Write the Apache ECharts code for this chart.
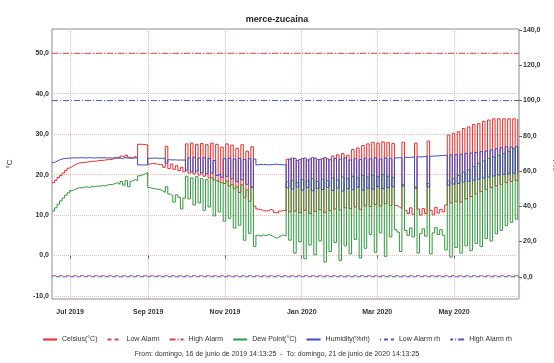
<!DOCTYPE html>
<html>
<head>
<meta charset="utf-8">
<script src="https://cdn.jsdelivr.net/npm/echarts@6.0.0/dist/echarts.min.js"></script>
<style>
  html, body { margin: 0; padding: 0; background: #ffffff; }
  #chart { width: 554px; height: 363px; }
</style>
</head>
<body>
<div id="chart"></div>
<script>
// ---------------- DATA ----------------
const chartTitle = 'merce-zucaina';
const footerText = 'From: domingo, 16 de junio de 2019 14:13:25  -  To: domingo, 21 de junio de 2020 14:13:25';

// sampling grid: one reading every 2 days from the start of the range
const rangeStart = [2019, 6, 16, 14, 13, 25];
const rangeEnd = [2020, 6, 21, 14, 13, 25];
const stepDays = 2;

// x-axis tick dates and labels
const monthTickDates = [[2019, 7, 1], [2019, 9, 1], [2019, 11, 1], [2020, 1, 1], [2020, 3, 1], [2020, 5, 1]];
const monthTickLabels = ['Jul 2019', 'Sep 2019', 'Nov 2019', 'Jan 2020', 'Mar 2020', 'May 2020'];

// y-axis tick values
const leftTicks = [-10, 0, 10, 20, 30, 40, 50];
const rightTicks = [0, 20, 40, 60, 80, 100, 120, 140];

// Celsius (°C)
const celsius = [
  18.0, 18.6, 19.3, 19.8, 20.4, 21.0, 21.6, 22.0, 22.4, 22.7,
  22.9, 23.0, 23.0, 23.1, 23.2, 23.3, 23.3, 23.4, 23.5, 23.5,
  23.6, 23.7, 23.7, 23.8, 24.0, 24.3, 24.1, 24.6, 24.2, 24.8,
  24.3, 24.1, 24.5, 24.2,
  27.5, 27.5, 27.4, 27.4,
  22.6, 22.8, 22.7, 22.6, 22.5, 22.4, 21.8, 27.0, 21.5, 22.6, 21.3, 22.2, 21.0, 21.8, 20.7,
  27.6, 20.4, 27.8, 20.2, 27.5, 19.9, 27.7, 19.6, 27.4, 19.2, 27.8, 18.7, 27.5, 18.2,
  26.8, 17.8, 27.6, 17.2, 27.3, 16.5, 26.5, 15.6, 27.4, 14.4, 25.8, 13.4, 26.9, 12.2,
  11.5, 11.3, 11.2, 11.0, 11.1, 11.4, 11.2, 10.6, 10.5, 11.0, 11.2, 11.0,
  23.8, 10.8, 24.1, 11.0, 23.5, 10.6, 24.0, 11.2, 23.6, 10.4,
  24.2, 10.9, 23.7, 11.3, 24.0, 10.7, 23.9, 11.1, 24.6, 11.5,
  24.9, 11.2, 25.2, 11.8, 24.8, 11.6, 26.2, 12.0, 26.6, 11.4,
  27.2, 12.3, 27.6, 12.1, 28.0, 12.6, 27.8, 12.2, 28.1, 12.8,
  27.9, 12.4, 27.7,
  12.4, 12.0, 11.6, 28.0, 11.2, 10.4, 11.8, 10.2, 27.8, 11.5,
  10.0, 11.6, 10.4, 28.3, 11.2, 10.1, 11.9, 10.5, 11.4, 10.8,
  12.5, 29.8, 13.0, 30.2, 13.4, 30.6, 13.2, 31.4, 14.0, 31.8,
  14.6, 32.4, 15.2, 32.6, 15.8, 33.2, 16.3, 33.5, 16.8, 33.8,
  17.2, 33.8, 17.6, 33.8, 18.0, 33.8, 18.3, 33.8, 18.5, 33.8
];

// Dew Point (°C)
const dewPoint = [
  11.0, 11.8, 12.7, 13.5, 14.2, 14.9, 15.5, 16.0, 16.3, 16.6,
  16.8, 16.7, 16.9, 17.0, 16.8, 17.1, 17.0, 17.2, 17.1, 17.3,
  17.2, 17.4, 17.6, 17.5, 17.8, 18.0, 17.6, 18.3, 17.4, 18.5,
  17.0, 18.4, 18.8, 18.5,
  19.7, 19.9, 20.2, 20.5,
  16.8, 16.6, 16.5, 16.4, 16.3, 16.0, 15.6, 17.0, 15.2, 14.8, 13.2, 15.0, 14.4, 11.5, 14.2,
  19.6, 14.0, 19.2, 12.5, 19.5, 13.0, 19.0, 11.2, 18.8, 12.0, 19.2, 9.8, 18.5, 10.8,
  18.0, 8.5, 18.4, 9.2, 17.6, 6.8, 17.0, 7.5, 17.5, 3.8, 16.2, 5.5, 16.8, 2.2,
  5.0, 4.8, 5.1, 4.9, 5.2, 5.0, 4.7, 4.3, 4.5, 4.9, 5.1, 4.8,
  18.2, 3.8, 18.6, 0.6, 18.0, 3.4, 18.8, -0.8, 18.4, 2.6,
  19.0, 0.2, 18.3, 3.6, 18.9, -1.6, 18.5, 1.0, 19.2, 3.2,
  18.7, -1.2, 19.4, 2.4, 19.0, 0.4, 19.6, 4.0, 19.2, -0.6,
  19.8, 1.8, 19.4, 5.2, 19.9, 0.8, 19.5, 5.6, 20.0, -0.2,
  19.6, 4.6, 19.3,
  6.4, 5.8, 1.0, 17.5, 6.2, 5.0, 6.8, 4.6, 17.0, 0.6,
  5.4, 6.6, 4.8, 17.8, 0.4, 5.6, 6.9, 5.2, 6.4, 5.0,
  1.4, 18.4, -0.4, 19.0, 2.0, 19.8, 0.6, 20.6, 2.4, 21.2,
  1.2, 22.0, 3.0, 22.8, 2.2, 23.4, 4.2, 24.0, 3.6, 24.4,
  5.4, 24.8, 6.2, 25.2, 7.4, 25.8, 8.2, 26.4, 9.0, 26.8
];

// Humidity (%rh)
const humidity = [
  64.8, 65.6, 66.3, 66.8, 67.1, 67.2, 67.3, 67.4, 67.5, 67.5,
  67.5, 67.6, 67.4, 67.5, 67.6, 67.5, 67.4, 67.6, 67.5, 67.5,
  67.6, 67.4, 67.5, 67.3, 67.6, 67.2, 67.5, 67.0, 67.6, 67.3,
  67.4, 67.2, 67.5, 67.3,
  63.5, 63.4, 63.5, 63.4,
  67.3, 67.3, 67.4, 67.3, 67.2, 67.3, 67.2, 64.5, 66.4, 66.3, 66.4, 66.2, 66.3, 66.2, 66.3,
  60.5, 67.5, 59.5, 67.8, 60.0, 67.4, 59.0, 67.6, 58.5, 67.2, 58.8, 66.0, 57.5, 58.5,
  56.5, 67.0, 57.0, 67.4, 55.5, 66.8, 54.0, 67.2, 55.0, 66.5, 52.5, 67.0, 51.0, 66.8,
  63.5, 63.8, 63.6, 63.7, 63.5, 63.6, 63.8, 63.9, 63.7, 63.6, 63.5, 63.6,
  50.5, 66.8, 49.8, 67.2, 51.0, 66.5, 49.2, 67.4, 50.6, 66.9,
  48.8, 67.3, 50.2, 66.6, 49.5, 67.6, 50.8, 66.4, 49.0, 67.1,
  50.4, 66.7, 48.6, 67.5, 50.0, 66.3, 49.4, 67.0, 50.9, 66.6,
  49.1, 67.3, 50.3, 66.9, 49.7, 67.5, 51.2, 66.8, 50.0, 67.4,
  50.6, 67.0, 51.0,
  67.4, 67.6, 67.5, 51.5, 67.8, 67.7, 67.9, 68.0, 50.2, 68.1,
  68.0, 68.2, 68.3, 51.0, 68.4, 68.5, 68.6, 68.7, 68.8, 68.9,
  69.0, 52.0, 69.2, 52.6, 69.3, 53.0, 69.6, 53.8, 70.0, 54.2,
  70.2, 54.8, 70.6, 55.4, 71.0, 56.0, 71.4, 56.6, 72.0, 57.2,
  72.6, 57.8, 73.2, 58.2, 73.8, 58.6, 73.6, 58.8, 73.8, 58.8
];

// alarm thresholds
const lowAlarm = -5;
const highAlarm = 50;
const lowAlarmRh = 0;
const highAlarmRh = 100;

// ---------------- BUILD ----------------
const toTime = a => new Date(a[0], a[1] - 1, a[2], a[3] || 0, a[4] || 0, a[5] || 0).getTime();
const tStart = toTime(rangeStart);
const tEnd = toTime(rangeEnd);
const dayMs = 86400000;
const sampleTimes = celsius.map((_, k) => tStart + k * stepDays * dayMs);
const monthTicks = monthTickDates.map(toTime);

const pair = arr => arr.map((v, k) => [sampleTimes[k], v]);
const flat = v => [[tStart, v], [tEnd, v]];

const fmt = v => v.toFixed(1).replace('.', ',');
const gridColor = '#ebb9b9';
const labelStyle = { fontSize: 7, fontWeight: 'bold', color: '#333', fontFamily: 'Liberation Sans, Arial, sans-serif' };

const chart = echarts.init(document.getElementById('chart'), null, { renderer: 'canvas' });
chart.setOption({
  animation: false,
  backgroundColor: '#ffffff',
  textStyle: { fontFamily: 'Liberation Sans, Arial, sans-serif' },
  title: [
    { text: chartTitle, left: 'center', top: 10,
      textStyle: { fontSize: 9, fontWeight: 'bold', color: '#222' } },
    { text: footerText, left: 'center', top: 346,
      textStyle: { fontSize: 7, fontWeight: 'normal', color: '#333' } }
  ],
  legend: {
    left: 'center', top: 331, itemWidth: 14, itemHeight: 8, itemGap: 9,
    itemStyle: { opacity: 0 },
    textStyle: { fontSize: 7, color: '#333' },
    data: ['Celsius(°C)', 'Low Alarm', 'High Alarm', 'Dew Point(°C)', 'Humidity(%rh)', 'Low Alarm rh', 'High Alarm rh']
  },
  grid: { left: 52, right: 35, top: 29, bottom: 64, show: true, borderColor: '#8c8c8c', borderWidth: 1,
    containLabel: false, outerBoundsMode: 'none' },
  xAxis: {
    type: 'value', min: tStart, max: tEnd, scale: true,
    axisLine: { show: false },
    axisTick: { show: true, customValues: monthTicks, length: 3, lineStyle: { color: '#666' } },
    axisLabel: { customValues: monthTicks, margin: 10, ...labelStyle,
      formatter: v => { const k = monthTicks.indexOf(v); return k >= 0 ? monthTickLabels[k] : ''; } },
    splitLine: { show: true, lineStyle: { color: gridColor, type: 'dotted', width: 1 } }
  },
  yAxis: [
    { type: 'value', min: -10.74, max: 56.0, name: '°C', nameLocation: 'middle', nameGap: 38,
      nameTextStyle: { fontSize: 8, color: '#333' },
      axisLine: { show: false },
      axisTick: { show: false, customValues: leftTicks },
      axisLabel: { customValues: leftTicks, margin: 3, ...labelStyle, formatter: fmt },
      splitLine: { show: true, lineStyle: { color: gridColor, type: 'dotted', width: 1 } } },
    { type: 'value', min: -12.6, max: 140.6, name: '%rh', nameLocation: 'middle', nameGap: 28,
      nameTextStyle: { fontSize: 8, color: '#333' },
      axisLine: { show: false },
      axisTick: { show: true, customValues: rightTicks, length: 3, lineStyle: { color: '#666' } },
      axisLabel: { customValues: rightTicks, margin: 4, ...labelStyle, formatter: fmt },
      splitLine: { show: false } }
  ],
  series: [
    { name: 'Celsius(°C)', type: 'line', step: 'end', symbol: 'none', yAxisIndex: 0,
      data: pair(celsius), color: '#ee2b2b', lineStyle: { width: 1, color: '#ee2b2b' } },
    { name: 'Low Alarm', type: 'line', symbol: 'none', yAxisIndex: 0, data: flat(lowAlarm),
      color: '#d24848', lineStyle: { width: 1, color: '#d24848', type: [4, 3] } },
    { name: 'High Alarm', type: 'line', symbol: 'none', yAxisIndex: 0, data: flat(highAlarm),
      color: '#d24848', lineStyle: { width: 1, color: '#d24848', type: [6, 2, 1, 2] } },
    { name: 'Dew Point(°C)', type: 'line', step: 'end', symbol: 'none', yAxisIndex: 0,
      data: pair(dewPoint), color: '#2f9a3c', lineStyle: { width: 1, color: '#2f9a3c' } },
    { name: 'Humidity(%rh)', type: 'line', step: 'end', symbol: 'none', yAxisIndex: 1,
      data: pair(humidity), color: '#3b4cc6', lineStyle: { width: 1, color: '#3b4cc6' } },
    { name: 'Low Alarm rh', type: 'line', symbol: 'none', yAxisIndex: 1, data: flat(lowAlarmRh),
      color: '#4d55d2', lineStyle: { width: 1, color: '#4d55d2', type: [4, 3], dashOffset: 3 } },
    { name: 'High Alarm rh', type: 'line', symbol: 'none', yAxisIndex: 1, data: flat(highAlarmRh),
      color: '#4d55d2', lineStyle: { width: 1, color: '#4d55d2', type: [6, 2, 1, 2] } }
  ]
});
</script>
</body>
</html>
